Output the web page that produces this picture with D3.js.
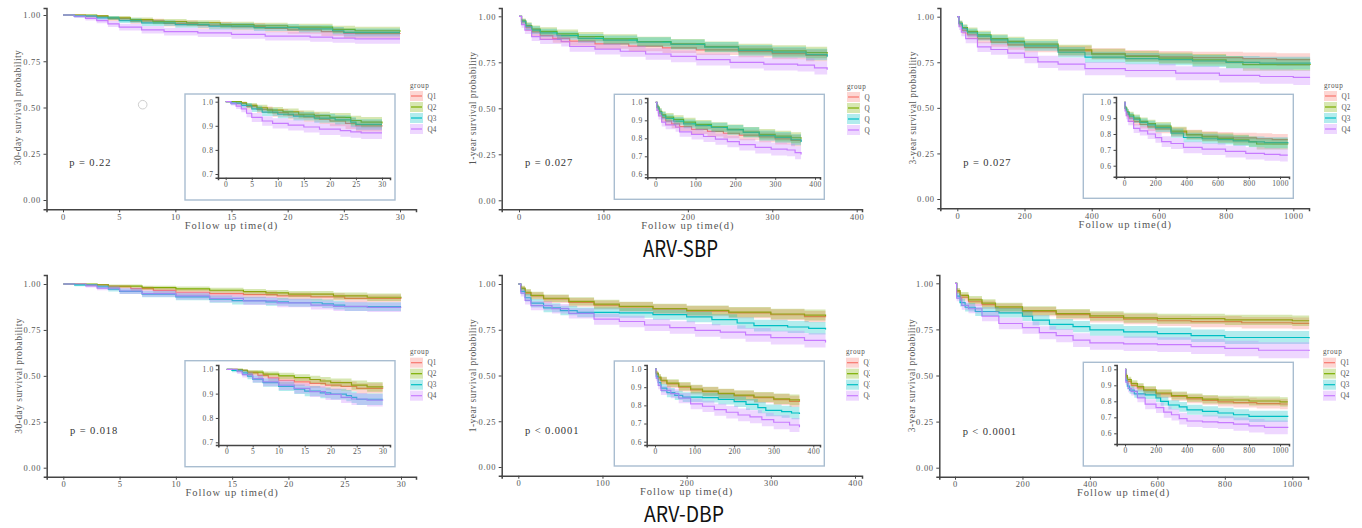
<!DOCTYPE html>
<html>
<head>
<meta charset="utf-8">
<script src="https://cdn.jsdelivr.net/npm/d3@7"></script>
<style>
  body { margin: 0; background: #fff; }
  svg { display: block; }
</style>
</head>
<body>
<svg id="chart" width="1362" height="528"></svg>
<script>
// groups (ggplot default hues)
const groups = ["Q1", "Q2", "Q3", "Q4"];
const groupColors = ["#F8766D", "#7CAE00", "#00BFC4", "#C77CFF"];

// Kaplan-Meier rows: [time, survival, lower CI, upper CI]
// ARV-SBP, 30 days
const sbp30_q1 = [[0,1,1,1],[2,0.993,0.985,1],[4,0.98,0.968,0.99],[6,0.968,0.953,0.98],[9,0.955,0.938,0.97],[12,0.945,0.926,0.962],[15,0.937,0.917,0.955],[18,0.928,0.907,0.948],[20,0.92,0.898,0.94],[23,0.91,0.887,0.932],[25,0.9,0.876,0.922],[30,0.897,0.872,0.92]];
const sbp30_q2 = [[0,1,1,1],[3,0.995,0.988,1],[4,0.985,0.975,0.995],[6,0.975,0.962,0.987],[8,0.965,0.95,0.978],[11,0.958,0.942,0.972],[14,0.948,0.931,0.964],[17,0.942,0.924,0.958],[20,0.935,0.916,0.953],[24,0.922,0.901,0.942],[26,0.915,0.893,0.936],[30,0.91,0.888,0.932]];
const sbp30_q3 = [[0,1,1,1],[1,0.994,0.987,1],[3,0.985,0.975,0.995],[5,0.97,0.957,0.983],[7,0.957,0.941,0.972],[10,0.948,0.931,0.964],[13,0.94,0.922,0.957],[17,0.932,0.913,0.95],[21,0.925,0.905,0.944],[24,0.915,0.894,0.935],[25,0.906,0.884,0.927],[30,0.906,0.884,0.927]];
const sbp30_q4 = [[0,1,1,1],[1,0.992,0.984,1],[2,0.982,0.97,0.993],[3,0.97,0.956,0.984],[4,0.952,0.935,0.968],[5,0.935,0.916,0.953],[7,0.92,0.9,0.94],[9,0.91,0.889,0.931],[12,0.903,0.881,0.925],[15,0.895,0.872,0.918],[18,0.886,0.862,0.91],[22,0.88,0.855,0.905],[24,0.875,0.85,0.9],[26,0.871,0.845,0.897],[30,0.871,0.845,0.897]];
// ARV-SBP, 1 year
const sbp365_q1 = [[0,1,1,1],[3,0.97,0.955,0.985],[8,0.94,0.92,0.96],[15,0.915,0.893,0.937],[25,0.895,0.872,0.918],[40,0.88,0.856,0.904],[60,0.865,0.84,0.89],[90,0.85,0.824,0.876],[130,0.838,0.81,0.865],[170,0.828,0.8,0.856],[210,0.818,0.789,0.847],[260,0.808,0.778,0.838],[300,0.797,0.766,0.828],[340,0.788,0.756,0.82],[365,0.783,0.75,0.815]];
const sbp365_q2 = [[0,1,1,1],[3,0.975,0.962,0.988],[8,0.95,0.932,0.968],[15,0.93,0.91,0.95],[25,0.918,0.896,0.94],[45,0.905,0.882,0.928],[70,0.89,0.866,0.914],[100,0.877,0.852,0.902],[140,0.863,0.837,0.889],[180,0.85,0.823,0.877],[220,0.835,0.807,0.863],[260,0.822,0.793,0.851],[300,0.812,0.782,0.842],[340,0.803,0.772,0.834],[365,0.797,0.765,0.829]];
const sbp365_q3 = [[0,1,1,1],[3,0.972,0.958,0.986],[8,0.945,0.926,0.964],[15,0.925,0.904,0.946],[25,0.91,0.888,0.932],[45,0.895,0.872,0.918],[70,0.88,0.856,0.904],[100,0.87,0.845,0.895],[140,0.86,0.834,0.886],[180,0.847,0.82,0.874],[220,0.833,0.805,0.861],[260,0.815,0.786,0.844],[300,0.805,0.775,0.835],[340,0.792,0.761,0.823],[365,0.78,0.748,0.812]];
const sbp365_q4 = [[0,1,1,1],[3,0.955,0.938,0.972],[7,0.925,0.904,0.946],[15,0.89,0.866,0.914],[25,0.875,0.85,0.9],[50,0.862,0.836,0.888],[60,0.836,0.808,0.864],[90,0.822,0.793,0.851],[120,0.81,0.78,0.84],[150,0.795,0.764,0.826],[180,0.782,0.75,0.814],[210,0.765,0.732,0.798],[250,0.75,0.716,0.784],[290,0.74,0.705,0.775],[330,0.735,0.7,0.77],[350,0.72,0.684,0.756],[365,0.71,0.673,0.747]];
// ARV-SBP, 3 years
const sbp1095_q1 = [[0,1,1,1],[5,0.96,0.945,0.975],[15,0.925,0.905,0.945],[30,0.9,0.878,0.922],[60,0.878,0.854,0.902],[100,0.86,0.835,0.885],[150,0.845,0.819,0.871],[200,0.832,0.805,0.859],[300,0.812,0.783,0.841],[400,0.797,0.767,0.827],[500,0.787,0.756,0.818],[600,0.78,0.748,0.812],[700,0.775,0.742,0.808],[850,0.77,0.736,0.804],[950,0.765,0.73,0.8],[1050,0.765,0.73,0.8]];
const sbp1095_q2 = [[0,1,1,1],[5,0.965,0.951,0.979],[15,0.94,0.922,0.958],[30,0.92,0.899,0.941],[60,0.9,0.877,0.923],[100,0.88,0.856,0.904],[150,0.865,0.84,0.89],[200,0.85,0.824,0.876],[300,0.818,0.79,0.846],[400,0.795,0.766,0.824],[500,0.782,0.752,0.812],[600,0.773,0.742,0.804],[700,0.763,0.731,0.795],[800,0.752,0.719,0.785],[850,0.737,0.703,0.771],[1050,0.735,0.7,0.77]];
const sbp1095_q3 = [[0,1,1,1],[5,0.962,0.947,0.977],[15,0.935,0.916,0.954],[30,0.912,0.89,0.934],[60,0.893,0.87,0.916],[100,0.873,0.848,0.898],[150,0.857,0.831,0.883],[200,0.84,0.813,0.867],[300,0.805,0.776,0.834],[380,0.778,0.748,0.808],[500,0.77,0.739,0.801],[600,0.765,0.733,0.797],[700,0.757,0.724,0.79],[800,0.75,0.716,0.784],[900,0.745,0.71,0.78],[1050,0.742,0.706,0.778]];
const sbp1095_q4 = [[0,1,1,1],[5,0.945,0.927,0.963],[12,0.915,0.893,0.937],[25,0.88,0.855,0.905],[60,0.835,0.807,0.863],[100,0.82,0.791,0.849],[150,0.8,0.769,0.831],[200,0.777,0.745,0.809],[240,0.752,0.718,0.786],[300,0.74,0.705,0.775],[380,0.715,0.679,0.751],[500,0.705,0.668,0.742],[650,0.69,0.652,0.728],[780,0.678,0.639,0.717],[900,0.672,0.632,0.712],[1000,0.667,0.626,0.708],[1050,0.667,0.626,0.708]];
// ARV-DBP, 30 days
const dbp30_q1 = [[0,1,1,1],[2,0.995,0.989,1],[4,0.985,0.976,0.994],[6,0.975,0.963,0.987],[8,0.965,0.951,0.979],[10,0.955,0.939,0.971],[13,0.948,0.931,0.965],[16,0.942,0.924,0.96],[19,0.935,0.916,0.954],[22,0.93,0.91,0.95],[25,0.922,0.901,0.943],[30,0.92,0.899,0.941]];
const dbp30_q2 = [[0,1,1,1],[3,0.996,0.99,1],[4,0.988,0.979,0.997],[7,0.98,0.969,0.991],[10,0.973,0.96,0.986],[13,0.966,0.952,0.98],[16,0.958,0.943,0.973],[18,0.952,0.936,0.968],[20,0.945,0.928,0.962],[24,0.935,0.916,0.954],[27,0.928,0.908,0.948],[30,0.925,0.904,0.946]];
const dbp30_q3 = [[0,1,1,1],[1,0.995,0.988,1],[3,0.985,0.975,0.995],[4,0.972,0.959,0.985],[5,0.96,0.945,0.975],[7,0.945,0.928,0.962],[10,0.93,0.911,0.949],[13,0.918,0.898,0.938],[15,0.91,0.889,0.931],[18,0.903,0.881,0.925],[20,0.898,0.876,0.92],[23,0.892,0.869,0.915],[24,0.885,0.861,0.909],[25,0.877,0.853,0.901],[30,0.877,0.853,0.901]];
const dbp30_q4 = [[0,1,1,1],[2,0.99,0.981,0.999],[3,0.978,0.966,0.99],[5,0.962,0.946,0.978],[7,0.948,0.93,0.966],[10,0.935,0.915,0.955],[13,0.922,0.901,0.943],[16,0.908,0.886,0.93],[19,0.897,0.874,0.92],[22,0.885,0.861,0.909],[24,0.878,0.853,0.903],[27,0.873,0.847,0.899],[30,0.872,0.846,0.898]];
// ARV-DBP, 1 year
const dbp365_q1 = [[0,1,1,1],[3,0.975,0.962,0.988],[8,0.95,0.932,0.968],[15,0.935,0.915,0.955],[30,0.918,0.896,0.94],[60,0.9,0.876,0.924],[90,0.885,0.86,0.91],[120,0.875,0.849,0.901],[160,0.863,0.836,0.89],[200,0.852,0.824,0.88],[250,0.842,0.813,0.871],[300,0.832,0.802,0.862],[340,0.822,0.791,0.853],[365,0.818,0.786,0.85]];
const dbp365_q2 = [[0,1,1,1],[3,0.978,0.966,0.99],[8,0.955,0.938,0.972],[15,0.938,0.919,0.957],[30,0.922,0.901,0.943],[60,0.905,0.882,0.928],[90,0.89,0.866,0.914],[120,0.878,0.853,0.903],[160,0.866,0.84,0.892],[200,0.856,0.829,0.883],[250,0.846,0.818,0.874],[300,0.836,0.807,0.865],[340,0.83,0.8,0.86],[365,0.825,0.794,0.856]];
const dbp365_q3 = [[0,1,1,1],[3,0.96,0.944,0.976],[8,0.925,0.905,0.945],[15,0.895,0.872,0.918],[30,0.87,0.845,0.895],[50,0.855,0.829,0.881],[70,0.845,0.818,0.872],[120,0.842,0.815,0.869],[160,0.833,0.805,0.861],[200,0.82,0.791,0.849],[230,0.805,0.775,0.835],[260,0.787,0.756,0.818],[280,0.772,0.74,0.804],[320,0.765,0.732,0.798],[345,0.758,0.724,0.792],[365,0.752,0.717,0.787]];
const dbp365_q4 = [[0,1,1,1],[3,0.95,0.932,0.968],[8,0.91,0.888,0.932],[15,0.882,0.857,0.907],[40,0.865,0.839,0.891],[60,0.84,0.812,0.868],[90,0.808,0.778,0.838],[120,0.795,0.764,0.826],[150,0.776,0.743,0.809],[180,0.762,0.728,0.796],[210,0.747,0.712,0.782],[240,0.737,0.701,0.773],[270,0.722,0.685,0.759],[300,0.707,0.669,0.745],[340,0.692,0.653,0.731],[365,0.68,0.64,0.72]];
// ARV-DBP, 3 years
const dbp1095_q1 = [[0,1,1,1],[5,0.955,0.94,0.97],[15,0.925,0.906,0.944],[40,0.9,0.878,0.922],[80,0.884,0.861,0.907],[120,0.866,0.842,0.89],[200,0.846,0.821,0.871],[300,0.83,0.804,0.856],[400,0.815,0.788,0.842],[500,0.806,0.778,0.834],[600,0.797,0.768,0.826],[700,0.792,0.762,0.822],[850,0.786,0.755,0.817],[1000,0.783,0.751,0.815],[1050,0.783,0.751,0.815]];
const dbp1095_q2 = [[0,1,1,1],[5,0.96,0.946,0.974],[15,0.935,0.917,0.953],[40,0.91,0.889,0.931],[80,0.892,0.87,0.914],[120,0.872,0.849,0.895],[200,0.852,0.828,0.876],[300,0.836,0.811,0.861],[400,0.823,0.797,0.849],[500,0.813,0.786,0.84],[600,0.808,0.781,0.835],[800,0.802,0.774,0.83],[1000,0.797,0.768,0.826],[1050,0.797,0.768,0.826]];
const dbp1095_q3 = [[0,1,1,1],[5,0.93,0.913,0.947],[15,0.895,0.874,0.916],[30,0.87,0.847,0.893],[60,0.847,0.822,0.872],[130,0.84,0.814,0.866],[200,0.822,0.795,0.849],[230,0.8,0.772,0.828],[280,0.777,0.748,0.806],[350,0.765,0.735,0.795],[400,0.747,0.716,0.778],[500,0.737,0.705,0.769],[600,0.727,0.694,0.76],[700,0.716,0.682,0.75],[800,0.706,0.671,0.741],[1050,0.702,0.666,0.738]];
const dbp1095_q4 = [[0,1,1,1],[5,0.92,0.902,0.938],[20,0.88,0.857,0.903],[40,0.862,0.837,0.887],[80,0.822,0.794,0.85],[130,0.782,0.751,0.813],[200,0.76,0.727,0.793],[250,0.732,0.697,0.767],[300,0.716,0.68,0.752],[350,0.692,0.655,0.729],[400,0.677,0.639,0.715],[500,0.672,0.633,0.711],[600,0.667,0.627,0.707],[700,0.657,0.616,0.698],[800,0.647,0.605,0.689],[900,0.637,0.594,0.68],[1050,0.633,0.589,0.677]];

// tick labels
const yTicksMain = [0, 0.25, 0.5, 0.75, 1];
const xTicks30 = [0, 5, 10, 15, 20, 25, 30];
const xTicks365 = [0, 100, 200, 300, 400];
const xTicks1095 = [0, 200, 400, 600, 800, 1000];
const yTicksInset30 = [0.7, 0.8, 0.9, 1.0];
const yTicksInsetLong = [0.6, 0.7, 0.8, 0.9, 1.0];

const yTitles = ["30-day survival probability", "1-year survival probability", "3-year survival probability"];
const xTitle = "Follow up time(d)";
const pValues = ["p = 0.22", "p = 0.027", "p = 0.027", "p = 0.018", "p < 0.0001", "p < 0.0001"];
const rowTitles = ["ARV-SBP", "ARV-DBP"];

const serif = "'Liberation Serif', 'DejaVu Serif', serif";

// panel layout (pixel positions in the page)
const panels = [
  { series: [sbp30_q1, sbp30_q2, sbp30_q3, sbp30_q4], xmax: 30, xTicks: xTicks30, yTitle: yTitles[0], p: pValues[0],
    clip: [0, 0, 437, 262],
    main: { left: 46.5, right: 416, top: 8, bottom: 209.3, x0: 63, x1: 400, y0: 200, y1: 15 },
    inset: { box: [185, 94, 395, 200], left: 218, right: 390, top: 97, bottom: 177.7, x0: 225.7, x1: 382, ylo: 0.7, y0: 174, y1: 101.7, yTicks: yTicksInset30 },
    legend: [410, 85], pPos: [69.3, 165.5], xTitleY: 228.5, yTitleX: 21 },
  { series: [sbp365_q1, sbp365_q2, sbp365_q3, sbp365_q4], xmax: 400, xTicks: xTicks365, yTitle: yTitles[1], p: pValues[1],
    clip: [440, 0, 430, 262],
    main: { left: 501.7, right: 862, top: 8, bottom: 209.3, x0: 519, x1: 856.7, y0: 200.3, y1: 16.3 },
    inset: { box: [614.3, 94.3, 824.3, 199.3], left: 647.3, right: 820, top: 98, bottom: 177.3, x0: 655.7, x1: 815, ylo: 0.6, y0: 174.3, y1: 102.3, yTicks: yTicksInsetLong },
    legend: [847, 86], pPos: [525, 165.8], xTitleY: 229, yTitleX: 476 },
  { series: [sbp1095_q1, sbp1095_q2, sbp1095_q3, sbp1095_q4], xmax: 1000, xTicks: xTicks1095, yTitle: yTitles[2], p: pValues[2],
    clip: [872, 0, 490, 262],
    main: { left: 940.3, right: 1309, top: 8, bottom: 208.3, x0: 957.3, x1: 1293.3, y0: 199, y1: 16.7 },
    inset: { box: [1083.3, 94.3, 1293.3, 198.3], left: 1116, right: 1289, top: 97, bottom: 176.7, x0: 1124.3, x1: 1280, ylo: 0.6, y0: 165.7, y1: 102.3, yTicks: yTicksInsetLong },
    legend: [1324, 85], pPos: [963.3, 165.5], xTitleY: 228, yTitleX: 915.5 },
  { series: [dbp30_q1, dbp30_q2, dbp30_q3, dbp30_q4], xmax: 30, xTicks: xTicks30, yTitle: yTitles[0], p: pValues[3],
    clip: [0, 268, 437, 260],
    main: { left: 46.7, right: 416, top: 275, bottom: 476.7, x0: 63.3, x1: 401, y0: 467.7, y1: 284 },
    inset: { box: [185, 360.7, 395, 466.7], left: 218.3, right: 390, top: 365, bottom: 445, x0: 226.7, x1: 382.7, ylo: 0.7, y0: 442.3, y1: 369.3, yTicks: yTicksInset30 },
    legend: [410, 351.7], pPos: [70, 434], xTitleY: 495.5, yTitleX: 22 },
  { series: [dbp365_q1, dbp365_q2, dbp365_q3, dbp365_q4], xmax: 400, xTicks: xTicks365, yTitle: yTitles[1], p: pValues[4],
    clip: [440, 268, 430, 260],
    main: { left: 501.7, right: 862, top: 275, bottom: 475.7, x0: 518.3, x1: 855, y0: 467, y1: 284 },
    inset: { box: [614.3, 361, 824.3, 466], left: 646.7, right: 820, top: 365, bottom: 445, x0: 655, x1: 813.3, ylo: 0.6, y0: 441.7, y1: 369, yTicks: yTicksInsetLong },
    legend: [846, 351.7], pPos: [525, 433.5], xTitleY: 495, yTitleX: 476 },
  { series: [dbp1095_q1, dbp1095_q2, dbp1095_q3, dbp1095_q4], xmax: 1000, xTicks: xTicks1095, yTitle: yTitles[2], p: pValues[5],
    clip: [872, 268, 490, 260],
    main: { left: 939.3, right: 1308, top: 275, bottom: 476.7, x0: 955, x1: 1292.3, y0: 467.7, y1: 283.3 },
    inset: { box: [1083.3, 362.3, 1293.3, 466], left: 1116.7, right: 1289, top: 365, bottom: 444, x0: 1125, x1: 1280, ylo: 0.6, y0: 433.3, y1: 369.3, yTicks: yTicksInsetLong },
    legend: [1323, 351.7], pPos: [962.7, 434.5], xTitleY: 495.5, yTitleX: 914.5 }
];

const svg = d3.select("#chart");
const defs = svg.append("defs");

function drawCurves(g, series, x, y) {
  const line = d3.line().curve(d3.curveStepAfter).x(d => x(d[0])).y(d => y(d[1]));
  const band = d3.area().curve(d3.curveStepAfter).x(d => x(d[0])).y0(d => y(d[2])).y1(d => y(d[3]));
  // survminer draws the steps first and the ribbons on top
  g.append("g").selectAll("path").data(series).join("path")
    .attr("d", line)
    .attr("fill", "none")
    .attr("stroke", (d, i) => groupColors[i])
    .attr("stroke-width", 1.2);
  g.append("g").selectAll("path").data(series).join("path")
    .attr("d", band)
    .attr("fill", (d, i) => groupColors[i])
    .attr("fill-opacity", 0.3);
}

function styleAxis(a, size, spacing) {
  a.attr("font-family", serif).attr("font-size", size);
  a.select(".domain").attr("stroke", "#444").attr("stroke-width", 1.5);
  a.selectAll(".tick line").attr("stroke", "#444").attr("stroke-width", 1);
  a.selectAll(".tick text").attr("fill", "#555").attr("letter-spacing", spacing);
}

function drawMain(g, p) {
  const m = p.main;
  const x = d3.scaleLinear().domain([0, p.xmax]).range([m.x0, m.x1]);
  const y = d3.scaleLinear().domain([0, 1]).range([m.y0, m.y1]);
  // full-panel scales so the axis lines run the whole panel
  const xFull = d3.scaleLinear().domain([x.invert(m.left), x.invert(m.right)]).range([m.left, m.right]);
  const yFull = d3.scaleLinear().domain([y.invert(m.bottom), y.invert(m.top)]).range([m.bottom, m.top]);

  drawCurves(g, p.series, x, y);

  const ax = g.append("g").attr("transform", `translate(0,${m.bottom})`)
    .call(d3.axisBottom(xFull).tickValues(p.xTicks).tickFormat(d3.format("d")).tickSizeOuter(0).tickSize(3).tickPadding(1.5));
  styleAxis(ax, 8.5, 0.6);
  const ay = g.append("g").attr("transform", `translate(${m.left},0)`)
    .call(d3.axisLeft(yFull).tickValues(yTicksMain).tickFormat(d3.format(".2f")).tickSizeOuter(0).tickSize(3).tickPadding(2.5));
  styleAxis(ay, 8.5, 0.7);
  ay.selectAll(".tick text").attr("dy", "0.35em");

  g.append("text")
    .attr("x", (m.x0 + m.x1) / 2).attr("y", p.xTitleY)
    .attr("text-anchor", "middle")
    .attr("font-family", serif).attr("font-size", 10.5).attr("letter-spacing", 1)
    .attr("fill", "#555")
    .text(xTitle);

  g.append("text")
    .attr("transform", `translate(${p.yTitleX},${(m.y0 + m.y1) / 2}) rotate(-90)`)
    .attr("text-anchor", "middle")
    .attr("font-family", serif).attr("font-size", 9.5).attr("letter-spacing", 0.45)
    .attr("fill", "#555")
    .text(p.yTitle);

  g.append("text")
    .attr("x", p.pPos[0]).attr("y", p.pPos[1])
    .attr("font-family", serif).attr("font-size", 10.5).attr("letter-spacing", 0.9)
    .attr("fill", "#333")
    .text(p.p);
}

function drawInset(g, p) {
  const s = p.inset;
  g.append("rect")
    .attr("x", s.box[0]).attr("y", s.box[1])
    .attr("width", s.box[2] - s.box[0]).attr("height", s.box[3] - s.box[1])
    .attr("fill", "#fff").attr("stroke", "#a9bdd0").attr("stroke-width", 1.4);

  const x = d3.scaleLinear().domain([0, p.xmax]).range([s.x0, s.x1]);
  const y = d3.scaleLinear().domain([s.ylo, 1]).range([s.y0, s.y1]);
  const xFull = d3.scaleLinear().domain([x.invert(s.left), x.invert(s.right)]).range([s.left, s.right]);
  const yFull = d3.scaleLinear().domain([y.invert(s.bottom), y.invert(s.top)]).range([s.bottom, s.top]);

  drawCurves(g, p.series, x, y);

  const ax = g.append("g").attr("transform", `translate(0,${s.bottom})`)
    .call(d3.axisBottom(xFull).tickValues(p.xTicks).tickFormat(d3.format("d")).tickSizeOuter(0).tickSize(2.5).tickPadding(1.5));
  styleAxis(ax, 7.5, 0.4);
  const ay = g.append("g").attr("transform", `translate(${s.left},0)`)
    .call(d3.axisLeft(yFull).tickValues(s.yTicks).tickFormat(d3.format(".1f")).tickSizeOuter(0).tickSize(2.5).tickPadding(2));
  styleAxis(ay, 7.5, 0.6);
}

function drawLegend(g, p) {
  const [lx, ly] = p.legend;
  const lg = g.append("g").attr("font-family", serif).attr("fill", "#555");
  lg.append("text").attr("x", lx).attr("y", ly + 2.5).attr("font-size", 7.2).attr("letter-spacing", 0.5).text("group");
  groups.forEach((name, i) => {
    const cy = ly + 11 + i * 11;
    lg.append("rect").attr("x", lx).attr("y", cy - 5).attr("width", 13).attr("height", 10)
      .attr("fill", groupColors[i]).attr("fill-opacity", 0.3);
    lg.append("line").attr("x1", lx + 1).attr("x2", lx + 12).attr("y1", cy).attr("y2", cy)
      .attr("stroke", groupColors[i]).attr("stroke-width", 1.2);
    lg.append("text").attr("x", lx + 17.5).attr("y", cy + 2.5).attr("font-size", 7.2).text(name);
  });
}

panels.forEach((p, i) => {
  defs.append("clipPath").attr("id", "clip" + i).append("rect")
    .attr("x", p.clip[0]).attr("y", p.clip[1]).attr("width", p.clip[2]).attr("height", p.clip[3]);
  const g = svg.append("g").attr("clip-path", `url(#clip${i})`);
  drawMain(g, p);
  drawInset(g, p);
  drawLegend(g, p);
});

// faint circle artefact in the first panel
svg.append("circle").attr("cx", 142.7).attr("cy", 104.7).attr("r", 4.3)
  .attr("fill", "none").attr("stroke", "#cfcfcf").attr("stroke-width", 1);

// row captions
svg.append("text").attr("x", 680.5).attr("y", 256.5)
  .attr("text-anchor", "middle")
  .attr("font-family", "'Noto Sans CJK SC', 'Noto Sans', sans-serif").attr("font-size", 23)
  .attr("textLength", 75).attr("lengthAdjust", "spacingAndGlyphs")
  .attr("fill", "#111")
  .text(rowTitles[0]);
svg.append("text").attr("x", 684).attr("y", 522)
  .attr("text-anchor", "middle")
  .attr("font-family", "'Noto Sans CJK SC', 'Noto Sans', sans-serif").attr("font-size", 21.5)
  .attr("textLength", 80).attr("lengthAdjust", "spacingAndGlyphs")
  .attr("fill", "#111")
  .text(rowTitles[1]);
</script>
</body>
</html>
